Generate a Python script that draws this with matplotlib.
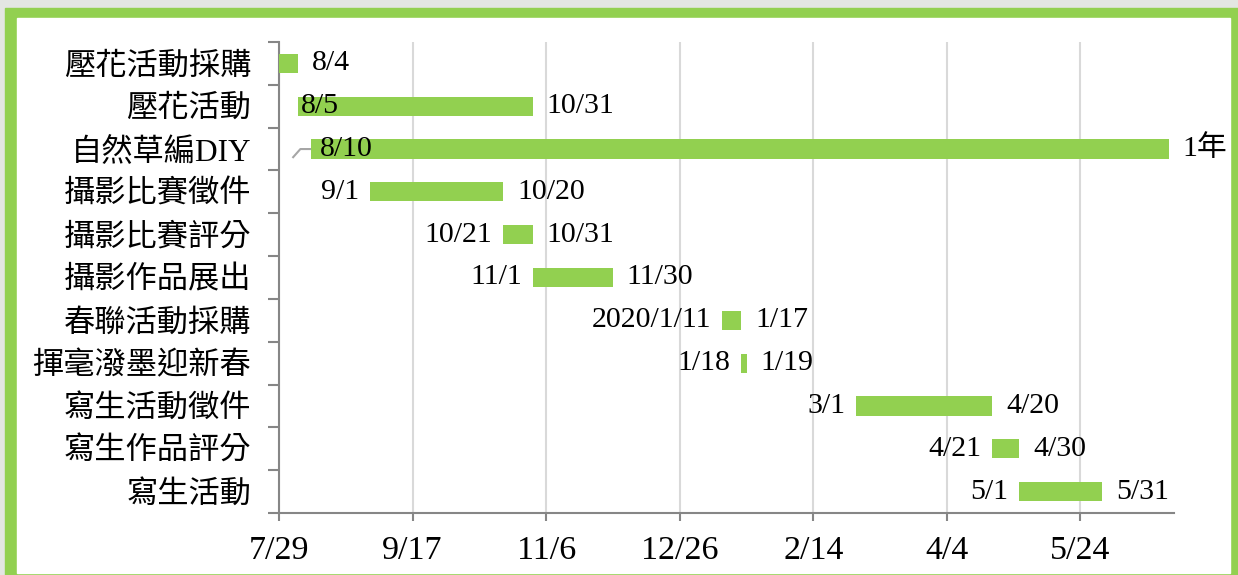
import matplotlib.pyplot as plt
import matplotlib.dates as mdates
from matplotlib.patches import Rectangle
import pandas as pd

plt.rcParams['font.family'] = ['Liberation Serif', 'Noto Sans CJK TC', 'DejaVu Sans']

# 活動名稱與日期
tasks = ['壓花活動採購', '壓花活動', '自然草編DIY', '攝影比賽徵件', '攝影比賽評分',
         '攝影作品展出', '春聯活動採購', '揮毫潑墨迎新春', '寫生活動徵件',
         '寫生作品評分', '寫生活動']
start_dates = ['2019-07-29', '2019-08-05', '2019-08-10', '2019-09-01', '2019-10-21',
               '2019-11-01', '2020-01-11', '2020-01-18', '2020-03-01',
               '2020-04-21', '2020-05-01']
end_dates = ['2019-08-04', '2019-10-31', '2020-06-25', '2019-10-20', '2019-10-31',
             '2019-11-30', '2020-01-17', '2020-01-19', '2020-04-20',
             '2020-04-30', '2020-05-31']
start_labels = ['', '8/5', '8/10', '9/1', '10/21', '11/1', '2020/1/11', '1/18',
                '3/1', '4/21', '5/1']
end_labels = ['8/4', '10/31', '1年', '10/20', '10/31', '11/30', '1/17', '1/19',
              '4/20', '4/30', '5/31']
tick_dates = ['2019-07-29', '2019-09-17', '2019-11-06', '2019-12-26',
              '2020-02-14', '2020-04-04', '2020-05-24']
tick_labels = ['7/29', '9/17', '11/6', '12/26', '2/14', '4/4', '5/24']

green = '#92d050'
grey = '#868686'

fig = plt.figure(figsize=(12.38, 5.75), dpi=100)
fig.patches.append(Rectangle((0, 0), 1, 1, transform=fig.transFigure,
                             color='#e3e6e2', zorder=-3))
fig.patches.append(Rectangle((5 / 1238, 0), 1, (575 - 8) / 575,
                             transform=fig.transFigure, color=green, zorder=-2))
fig.patches.append(Rectangle((17 / 1238, 2 / 575), (1230 - 17) / 1238,
                             (573 - 18) / 575, transform=fig.transFigure,
                             color='white', zorder=-1))

ax = fig.add_axes([279 / 1238, 62 / 575, (1174 - 279) / 1238, (513 - 42) / 575])
ax.patch.set_alpha(0)

starts = mdates.date2num(pd.to_datetime(start_dates))
ends = mdates.date2num(pd.to_datetime(end_dates) + pd.Timedelta(days=1))
y = list(range(len(tasks)))

ax.barh(y, ends - starts, left=starts, height=0.45, color=green, zorder=3)

fs = 21.5
for i in y:
    ax.annotate(end_labels[i], (ends[i], i), xytext=(10, 0), textcoords='offset points',
                ha='left', va='center', fontsize=fs)
    if not start_labels[i]:
        continue
    if i == 1:
        ax.annotate(start_labels[i], (starts[i], i), xytext=(2, 0),
                    textcoords='offset points', ha='left', va='center', fontsize=fs, zorder=4)
    elif i == 2:
        ax.annotate(start_labels[i], (starts[i], i), xytext=(6, 0),
                    textcoords='offset points', ha='left', va='center', fontsize=fs, zorder=4)
        ax.plot([starts[i] - 6.7, starts[i] - 4, starts[i]], [i + 0.19, i, i],
                color='#a6a6a6', lw=1.5, zorder=2)
    else:
        ax.annotate(start_labels[i], (starts[i], i), xytext=(-8, 0),
                    textcoords='offset points', ha='right', va='center', fontsize=fs)

ax.set_xlim(mdates.date2num(pd.Timestamp('2019-07-29')),
            mdates.date2num(pd.Timestamp('2020-06-28')))
ax.set_ylim(len(tasks) - 0.5, -0.5)

ax.set_xticks(mdates.date2num(pd.to_datetime(tick_dates)))
ax.set_xticklabels(tick_labels, fontsize=24.5)
ax.set_yticks(y)
ax.set_yticklabels(tasks, fontsize=22.5)
ax.set_yticks([k - 0.5 for k in range(len(tasks) + 1)], minor=True)

ax.tick_params(axis='y', which='major', length=0, pad=20)
ax.tick_params(axis='y', which='minor', length=8, width=1.5, color=grey)
ax.tick_params(axis='x', length=6, width=1.5, color=grey, pad=10)

ax.grid(axis='x', color='#d9d9d9', lw=1.5, zorder=0)
for s in ['top', 'right']:
    ax.spines[s].set_visible(False)
for s in ['left', 'bottom']:
    ax.spines[s].set_color(grey)
    ax.spines[s].set_linewidth(1.5)

fig.savefig('out.png', dpi=100)
